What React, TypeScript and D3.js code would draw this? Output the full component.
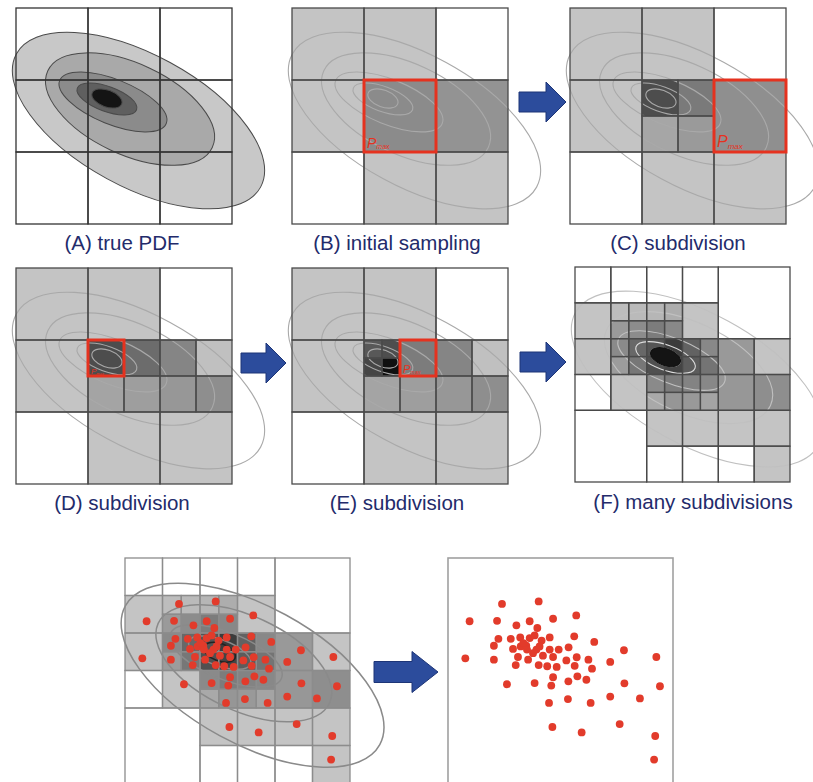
import React from "react";
import * as d3 from "d3";

// cell = [x0, y0, x1, y1, fill] in twelfths of a panel side
type Cell = [number, number, number, number, string];

const W = "#ffffff";
const L = "#c4c4c4";

const cellsA: Cell[] = [
  [0, 0, 4, 4, W], [4, 0, 8, 4, W], [8, 0, 12, 4, W],
  [0, 4, 4, 8, W], [4, 4, 8, 8, W], [8, 4, 12, 8, W],
  [0, 8, 4, 12, W], [4, 8, 8, 12, W], [8, 8, 12, 12, W],
];

const cellsB: Cell[] = [
  [0, 0, 4, 4, L], [4, 0, 8, 4, L], [8, 0, 12, 4, W],
  [0, 4, 4, 8, L], [4, 4, 8, 8, "#8b8b8b"], [8, 4, 12, 8, "#939393"],
  [0, 8, 4, 12, W], [4, 8, 8, 12, L], [8, 8, 12, 12, L],
];

const cellsC: Cell[] = [
  [0, 0, 4, 4, L], [4, 0, 8, 4, L], [8, 0, 12, 4, W],
  [0, 4, 4, 8, L],
  [4, 4, 6, 6, "#4d4d4d"], [6, 4, 8, 6, "#7a7a7a"], [4, 6, 6, 8, "#a6a6a6"], [6, 6, 8, 8, "#9a9a9a"],
  [8, 4, 12, 8, "#8f8f8f"],
  [0, 8, 4, 12, W], [4, 8, 8, 12, L], [8, 8, 12, 12, L],
];

const cellsD: Cell[] = [
  [0, 0, 4, 4, L], [4, 0, 8, 4, L], [8, 0, 12, 4, W],
  [0, 4, 4, 8, L],
  [4, 4, 6, 6, "#4d4d4d"], [6, 4, 8, 6, "#6c6c6c"], [4, 6, 6, 8, "#a4a4a4"], [6, 6, 8, 8, "#9e9e9e"],
  [8, 4, 10, 6, "#858585"], [10, 4, 12, 6, "#c0c0c0"], [8, 6, 10, 8, "#979797"], [10, 6, 12, 8, "#8e8e8e"],
  [0, 8, 4, 12, W], [4, 8, 8, 12, L], [8, 8, 12, 12, L],
];

const cellsE: Cell[] = [
  [0, 0, 4, 4, L], [4, 0, 8, 4, L], [8, 0, 12, 4, W],
  [0, 4, 4, 8, L],
  [4, 4, 5, 5, "#585858"], [5, 4, 6, 5, "#4e4e4e"], [4, 5, 5, 6, "#454545"], [5, 5, 6, 6, "#101010"],
  [6, 4, 8, 6, "#7c7c7c"], [4, 6, 6, 8, "#a4a4a4"], [6, 6, 8, 8, "#9e9e9e"],
  [8, 4, 10, 6, "#858585"], [10, 4, 12, 6, "#c0c0c0"], [8, 6, 10, 8, "#979797"], [10, 6, 12, 8, "#8e8e8e"],
  [0, 8, 4, 12, W], [4, 8, 8, 12, L], [8, 8, 12, 12, L],
];

const cellsF: Cell[] = [
  [0, 0, 2, 2, W], [2, 0, 4, 2, W], [0, 2, 2, 4, L],
  [2, 2, 3, 3, "#bdbdbd"], [3, 2, 4, 3, "#bababa"], [2, 3, 3, 4, "#9a9a9a"], [3, 3, 4, 4, "#8c8c8c"],
  [4, 0, 6, 2, W], [6, 0, 8, 2, W],
  [4, 2, 5, 3, "#b6b6b6"], [5, 2, 6, 3, "#adadad"], [4, 3, 5, 4, "#7c7c7c"], [5, 3, 6, 4, "#888888"],
  [6, 2, 8, 4, L],
  [8, 0, 12, 4, W],
  [0, 4, 2, 6, L],
  [2, 4, 3, 5, "#8a8a8a"], [3, 4, 4, 5, "#686868"], [2, 5, 3, 6, "#9c9c9c"], [3, 5, 4, 6, "#777777"],
  [0, 6, 2, 8, W], [2, 6, 4, 8, L],
  [4, 4, 5, 5, "#555555"], [5, 4, 6, 5, "#3c3c3c"], [4, 5, 5, 6, "#505050"], [5, 5, 6, 6, "#444444"],
  [6, 4, 7, 5, "#626262"], [7, 4, 8, 5, "#888888"], [6, 5, 7, 6, "#5c5c5c"], [7, 5, 8, 6, "#747474"],
  [4, 6, 5, 7, "#8a8a8a"], [5, 6, 6, 7, "#7c7c7c"], [4, 7, 5, 8, "#a9a9a9"], [5, 7, 6, 8, "#969696"],
  [6, 6, 7, 7, "#838383"], [7, 6, 8, 7, "#888888"], [6, 7, 7, 8, "#999999"], [7, 7, 8, 8, "#a4a4a4"],
  [8, 4, 10, 6, "#999999"], [10, 4, 12, 6, L], [8, 6, 10, 8, "#979797"], [10, 6, 12, 8, "#8e8e8e"],
  [0, 8, 4, 12, W],
  [4, 8, 6, 10, L], [6, 8, 8, 10, L], [4, 10, 6, 12, W], [6, 10, 8, 12, W],
  [8, 8, 10, 10, L], [10, 8, 12, 10, L], [8, 10, 10, 12, W], [10, 10, 12, 12, L],
];

// PDF contour levels, outermost first (fractions of panel side, angle in degrees)
const contourCx = [0.567, 0.528, 0.449, 0.421, 0.421];
const contourCy = [0.521, 0.468, 0.435, 0.421, 0.419];
const contourRx = [0.644, 0.42, 0.266, 0.146, 0.073];
const contourRy = [0.306, 0.21, 0.104, 0.058, 0.039];
const contourAngle = [28.6, 25, 22, 20, 20];
const pdfFill = ["#c8c8c8", "#a9a9a9", "#8b8b8b", "#5f5f5f", "#141414"];

// sampled points, in % of the panel side
const samplesX = [24.0, 40.3, 9.6, 21.8, 36.3, 46.7, 57.0, 30.4, 39.7, 22.4,
  27.9, 32.1, 36.3, 38.5, 41.6, 45.2, 56.1, 65.0, 20.4, 28.9,
  32.3, 34.8, 35.1, 39.3, 40.7, 45.2, 49.2, 53.6, 78.2, 7.7,
  20.4, 31.1, 35.6, 42.2, 46.7, 52.6, 57.2, 62.4, 72.1, 92.6,
  30.1, 40.3, 44.1, 48.3, 56.3, 64.0, 46.7, 57.5, 61.5, 53.5,
  26.2, 38.5, 45.9, 78.4, 94.2, 53.3, 72.1, 85.3, 44.9, 63.4,
  46.4, 59.4, 76.3, 92.1, 91.6, 33.5, 37.8];
const samplesY = [20.4, 19.3, 28.1, 27.9, 28.1, 27.0, 25.5, 29.9, 31.1, 35.9,
  35.9, 35.3, 35.6, 34.4, 36.7, 35.3, 34.8, 37.3, 39.0, 40.4,
  39.3, 39.0, 40.7, 40.7, 39.3, 40.7, 40.7, 39.7, 41.0, 44.6,
  45.2, 44.0, 45.2, 43.4, 44.0, 45.5, 44.1, 45.2, 46.2, 44.0,
  47.6, 47.6, 48.1, 48.4, 47.9, 49.2, 53.0, 52.6, 54.1, 54.8,
  56.1, 55.6, 56.7, 55.7, 57.0, 62.7, 61.6, 62.4, 64.4, 64.4,
  75.1, 77.5, 73.8, 79.1, 89.6, 37.8, 42.3];

const labels = ["(A) true PDF", "(B) initial sampling", "(C) subdivision",
  "(D) subdivision", "(E) subdivision", "(F) many subdivisions"];

type Panel = {
  x: number; y: number; size: number; cells: Cell[] | null; kind: string;
  box?: number[]; pSize?: number; label?: string; lx?: number; ly?: number;
};

const panels: Panel[] = [
  { x: 16, y: 8, size: 216, cells: cellsA, kind: "pdf", label: labels[0], lx: 122, ly: 250 },
  { x: 292, y: 8, size: 216, cells: cellsB, kind: "cells", box: [4, 4, 8, 8], pSize: 14, label: labels[1], lx: 397, ly: 250 },
  { x: 570, y: 8, size: 216, cells: cellsC, kind: "cells", box: [8, 4, 12, 8], pSize: 16, label: labels[2], lx: 678, ly: 250 },
  { x: 16, y: 268, size: 216, cells: cellsD, kind: "cells", box: [4, 4, 6, 6], pSize: 8, label: labels[3], lx: 122, ly: 510 },
  { x: 292, y: 268, size: 216, cells: cellsE, kind: "cells", box: [6, 4, 8, 6], pSize: 11, label: labels[4], lx: 397, ly: 510 },
  { x: 575, y: 267, size: 215, cells: cellsF, kind: "many", label: labels[5], lx: 693, ly: 509 },
  { x: 125, y: 558, size: 225, cells: cellsF, kind: "samples" },
  { x: 448, y: 558, size: 225, cells: null, kind: "points" },
];

const arrows = [
  { x0: 519, x1: 566, cy: 102, sh: 10, hh: 20, hl: 20 },
  { x0: 241, x1: 286, cy: 363, sh: 10, hh: 20, hl: 20 },
  { x0: 520, x1: 566, cy: 362, sh: 10, hh: 20, hl: 20 },
  { x0: 374, x1: 438, cy: 672, sh: 10.5, hh: 20.5, hl: 26 },
];

const RED = "#e5321f";
const NAVY = "#232b6b";

function Contours({ size, stroke, width, fills, only }: any) {
  const u = d3.scaleLinear().domain([0, 1]).range([0, size]);
  return (
    <g>
      {contourCx.map((cx, i) => {
        if (only !== undefined && i !== only) return null;
        const x = u(cx), y = u(contourCy[i]);
        return (
          <ellipse key={i} cx={x} cy={y} rx={u(contourRx[i])} ry={u(contourRy[i])}
            transform={`rotate(${contourAngle[i]},${x},${y})`}
            fill={fills ? fills[i] : "none"}
            stroke={typeof stroke === "function" ? stroke(i) : stroke} strokeWidth={width} />
        );
      })}
    </g>
  );
}

function PanelView({ p }: { p: Panel }) {
  const g = d3.scaleLinear().domain([0, 12]).range([0, p.size]);
  const s = d3.scaleLinear().domain([0, 100]).range([0, p.size]);
  const gridStroke = p.kind === "samples" ? "#8c8c8c" : p.kind === "pdf" ? "#333" : "#4a4a4a";
  const cells = p.cells || [];
  return (
    <g transform={`translate(${p.x},${p.y})`}>
      {p.kind !== "pdf" && cells.map((c, i) => (
        <rect key={"f" + i} x={g(c[0])} y={g(c[1])} width={g(c[2]) - g(c[0])} height={g(c[3]) - g(c[1])} fill={c[4]} />
      ))}
      {p.kind === "pdf" && <Contours size={p.size} stroke="#4a4a4a" width={1} fills={pdfFill} />}
      {p.kind === "cells" && <Contours size={p.size} stroke="#a9a9a9" width={1.1} />}
      {p.kind === "many" && <Contours size={p.size} stroke={(i: number) => (i === 3 ? "#dcdcdc" : "#c0c0c0")} width={1.1} />}
      {p.kind === "samples" && <Contours size={p.size} stroke={(i: number) => (i === 4 ? "#222" : "#8a8a8a")} width={1.5} />}
      {cells.map((c, i) => (
        <rect key={"s" + i} x={g(c[0])} y={g(c[1])} width={g(c[2]) - g(c[0])} height={g(c[3]) - g(c[1])}
          fill="none" stroke={gridStroke} strokeWidth={1.3} />
      ))}
      {p.kind === "many" && <Contours size={p.size} only={4} stroke="#111" width={1} fills={pdfFill} />}
      {p.kind === "points" && (
        <rect x={0} y={0} width={p.size} height={p.size} fill="none" stroke="#a0a0a0" strokeWidth={1.6} />
      )}
      {p.box && (
        <g>
          <rect x={g(p.box[0])} y={g(p.box[1])} width={g(p.box[2]) - g(p.box[0])} height={g(p.box[3]) - g(p.box[1])}
            fill="none" stroke={RED} strokeWidth={3} />
          <text x={g(p.box[0]) + 3} y={g(p.box[3]) - (p.pSize || 12) * 0.3} fill={RED}
            fontFamily="Liberation Sans, Arial, sans-serif" fontStyle="italic" fontSize={p.pSize}>
            P<tspan fontSize={(p.pSize || 12) * 0.5} dy={(p.pSize || 12) * 0.12}>max</tspan>
          </text>
        </g>
      )}
      {(p.kind === "samples" || p.kind === "points") && samplesX.map((sx, i) => (
        <circle key={"d" + i} cx={s(sx)} cy={s(samplesY[i])} r={3.9} fill="#e23b2b" />
      ))}
      {p.label && (
        <text x={(p.lx || 0) - p.x} y={(p.ly || 0) - p.y} textAnchor="middle" fill={NAVY}
          fontFamily="Liberation Sans, Arial, sans-serif" fontSize={20.5}>{p.label}</text>
      )}
    </g>
  );
}

function arrowPath(a: any) {
  return `M${a.x0},${a.cy - a.sh}H${a.x1 - a.hl}V${a.cy - a.hh}L${a.x1},${a.cy}L${a.x1 - a.hl},${a.cy + a.hh}V${a.cy + a.sh}H${a.x0}Z`;
}

export default function App() {
  return (
    <svg width={813} height={782} style={{ position: "absolute", left: 0, top: 0, background: "#fff" }}>
      {panels.map((p, i) => <PanelView key={i} p={p} />)}
      {arrows.map((a, i) => (
        <path key={i} d={arrowPath(a)} fill="#2c4c9c" stroke="#1d3577" strokeWidth={1} />
      ))}
    </svg>
  );
}
